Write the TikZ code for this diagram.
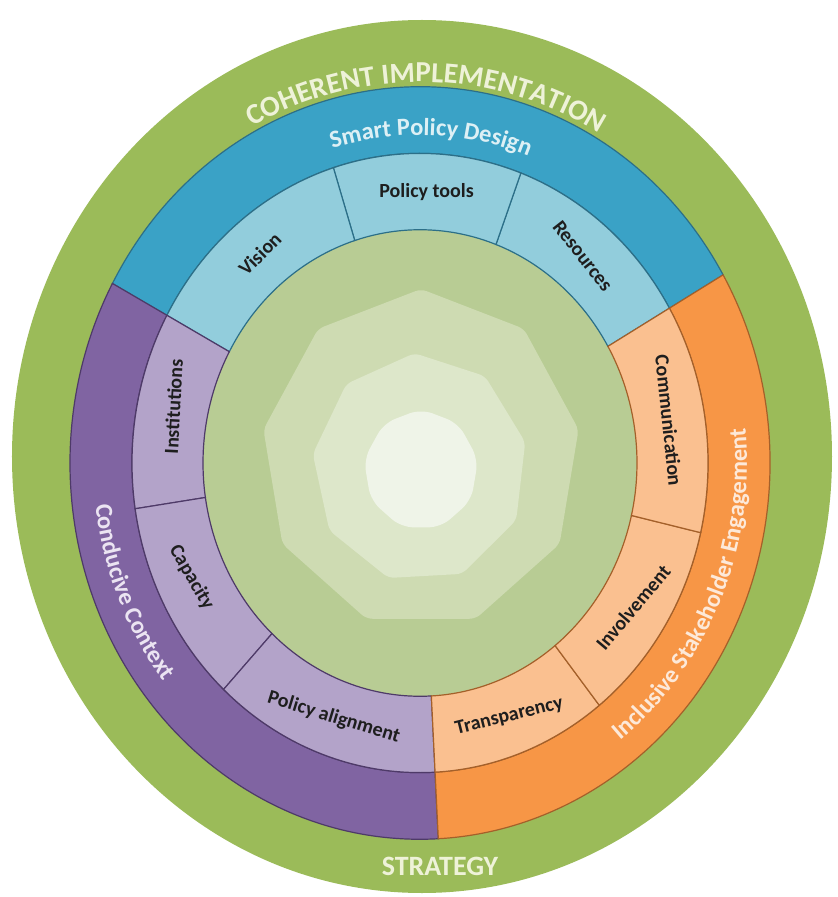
\documentclass[tikz,border=0pt]{standalone}
\usepackage{fontspec}
\setmainfont{Carlito}
\usetikzlibrary{decorations.text}

\definecolor{ringgreen}{HTML}{9BBB59}
\definecolor{ringink}{HTML}{EEF2D8}
\definecolor{coregreen}{HTML}{B8CC94}
\definecolor{coreA}{HTML}{CEDBB2}
\definecolor{coreB}{HTML}{DDE7CA}
\definecolor{coreC}{HTML}{EFF4E8}
\definecolor{designdark}{HTML}{3AA2C6}
\definecolor{designlight}{HTML}{92CDDC}
\definecolor{designline}{HTML}{2C6F88}
\definecolor{designink}{HTML}{DDF0F5}
\definecolor{contextdark}{HTML}{8064A2}
\definecolor{contextlight}{HTML}{B3A3C9}
\definecolor{contextline}{HTML}{4E3A68}
\definecolor{contextink}{HTML}{EBE4F2}
\definecolor{engagedark}{HTML}{F79646}
\definecolor{engagelight}{HTML}{FAC090}
\definecolor{engageline}{HTML}{A4602A}
\definecolor{engageink}{HTML}{FDE9D9}
\definecolor{labelink}{HTML}{1E1E1E}

\newcommand{\ys}{1.075}
\newcommand{\segfont}{\fontsize{20}{22}\selectfont\bfseries}
\newcommand{\ringfont}{\fontsize{29}{30}\selectfont\bfseries}
\newcommand{\bandfont}{\fontsize{24.5}{26}\selectfont\bfseries}
\newcommand{\bandpiece}[5]{%
  \draw[#1] (#2:#4 and \ys*#4) arc[start angle=#2, end angle=#3, x radius=#4, y radius=\ys*#4]
    -- (#3:#5 and \ys*#5) arc[start angle=#3, end angle=#2, x radius=#5, y radius=\ys*#5] -- cycle;}

\begin{document}
\begin{tikzpicture}[x=1pt, y=1pt,
    seglabel/.style={font=\segfont, text=labelink, inner sep=0pt},
    designband/.style={fill=designdark, draw=designline, line width=1.2pt},
    designpart/.style={fill=designlight, draw=designline, line width=1.2pt},
    contextband/.style={fill=contextdark, draw=contextline, line width=1.2pt},
    contextpart/.style={fill=contextlight, draw=contextline, line width=1.2pt},
    engageband/.style={fill=engagedark, draw=engageline, line width=1.2pt},
    engagepart/.style={fill=engagelight, draw=engageline, line width=1.2pt}]
\useasboundingbox (-420,-434) rectangle (418,463);

\fill[ringgreen] (2,6.5) ellipse [x radius=410, y radius=436.5];
\fill[coregreen] (0,0) ellipse [x radius=217, y radius=233];
\begin{scope}[shift={(1,4)}]
  \fill[coreA, rounded corners=6pt] (90:160 and 170) \foreach \a in {130,170,...,410} {-- (\a:160 and 170)} -- cycle;
\end{scope}
\begin{scope}[shift={(0,-5)}]
  \fill[coreB, rounded corners=6pt] (93:108 and 115) \foreach \a in {133,173,...,413} {-- (\a:108 and 115)} -- cycle;
\end{scope}
\begin{scope}[shift={(1,-7)}]
  \fill[coreC, rounded corners=12pt] (90:58 and 61) \foreach \a in {130,170,...,410} {-- (\a:58 and 61)} -- cycle;
\end{scope}

\bandpiece{designband}{30}{151.5}{288}{350}
\bandpiece{contextband}{151.5}{273}{288}{350}
\bandpiece{engageband}{273}{390}{288}{350}

\bandpiece{designpart}{30}{69.5}{217}{288}
\bandpiece{designpart}{69.5}{107.5}{217}{288}
\bandpiece{designpart}{107.5}{151.5}{217}{288}
\bandpiece{contextpart}{151.5}{188.5}{217}{288}
\bandpiece{contextpart}{188.5}{227}{217}{288}
\bandpiece{contextpart}{227}{273}{217}{288}
\bandpiece{engagepart}{273}{308.5}{217}{288}
\bandpiece{engagepart}{308.5}{347}{217}{288}
\bandpiece{engagepart}{347}{390}{217}{288}

\node[seglabel, rotate=45] (vision) at (129.5:252 and 271) {Vision};
\node[seglabel] (tools) at (88.5:252 and 271) {Policy tools};
\node[seglabel, rotate=-52] (resources) at (49.75:252 and 271) {Resources};
\node[seglabel, rotate=87] (institutions) at (168:252 and 271) {Institutions};
\node[seglabel, rotate=-60] (capacity) at (205:252 and 271) {Capacity};
\node[seglabel, rotate=-17] (alignment) at (250:252 and 271) {Policy alignment};
\node[seglabel, rotate=14] (transparency) at (290.75:252 and 271) {Transparency};
\node[seglabel, rotate=50] (involvement) at (327.75:252 and 271) {Involvement};
\node[seglabel, rotate=-84] (communication) at (9:252 and 271) {Communication};

\path[decorate, decoration={text along path, text align=center, text color=ringink,
    text={|\ringfont|COHERENT IMPLEMENTATION}}]
  (130:357 and 381) arc[start angle=130, end angle=48, x radius=357, y radius=381];
\path[decorate, decoration={text along path, text align=center, text color=designink,
    text={|\bandfont|Smart Policy Design}}]
  (130:305 and 328) arc[start angle=130, end angle=46, x radius=305, y radius=328];
\path[decorate, decoration={text along path, text align=center, text color=contextink,
    text={|\bandfont|Conducive Context}}]
  (168:327 and 351.5) arc[start angle=168, end angle=238, x radius=327, y radius=351.5];
\path[decorate, decoration={text along path, text align=center, text color=engageink,
    text={|\bandfont|Inclusive Stakeholder Engagement}}]
  (-64:327 and 351.5) arc[start angle=-64, end angle=17, x radius=327, y radius=351.5];

\node[font=\fontsize{28}{30}\selectfont\bfseries, text=ringink] (strategy) at (20,-403) {STRATEGY};
\end{tikzpicture}
\end{document}
